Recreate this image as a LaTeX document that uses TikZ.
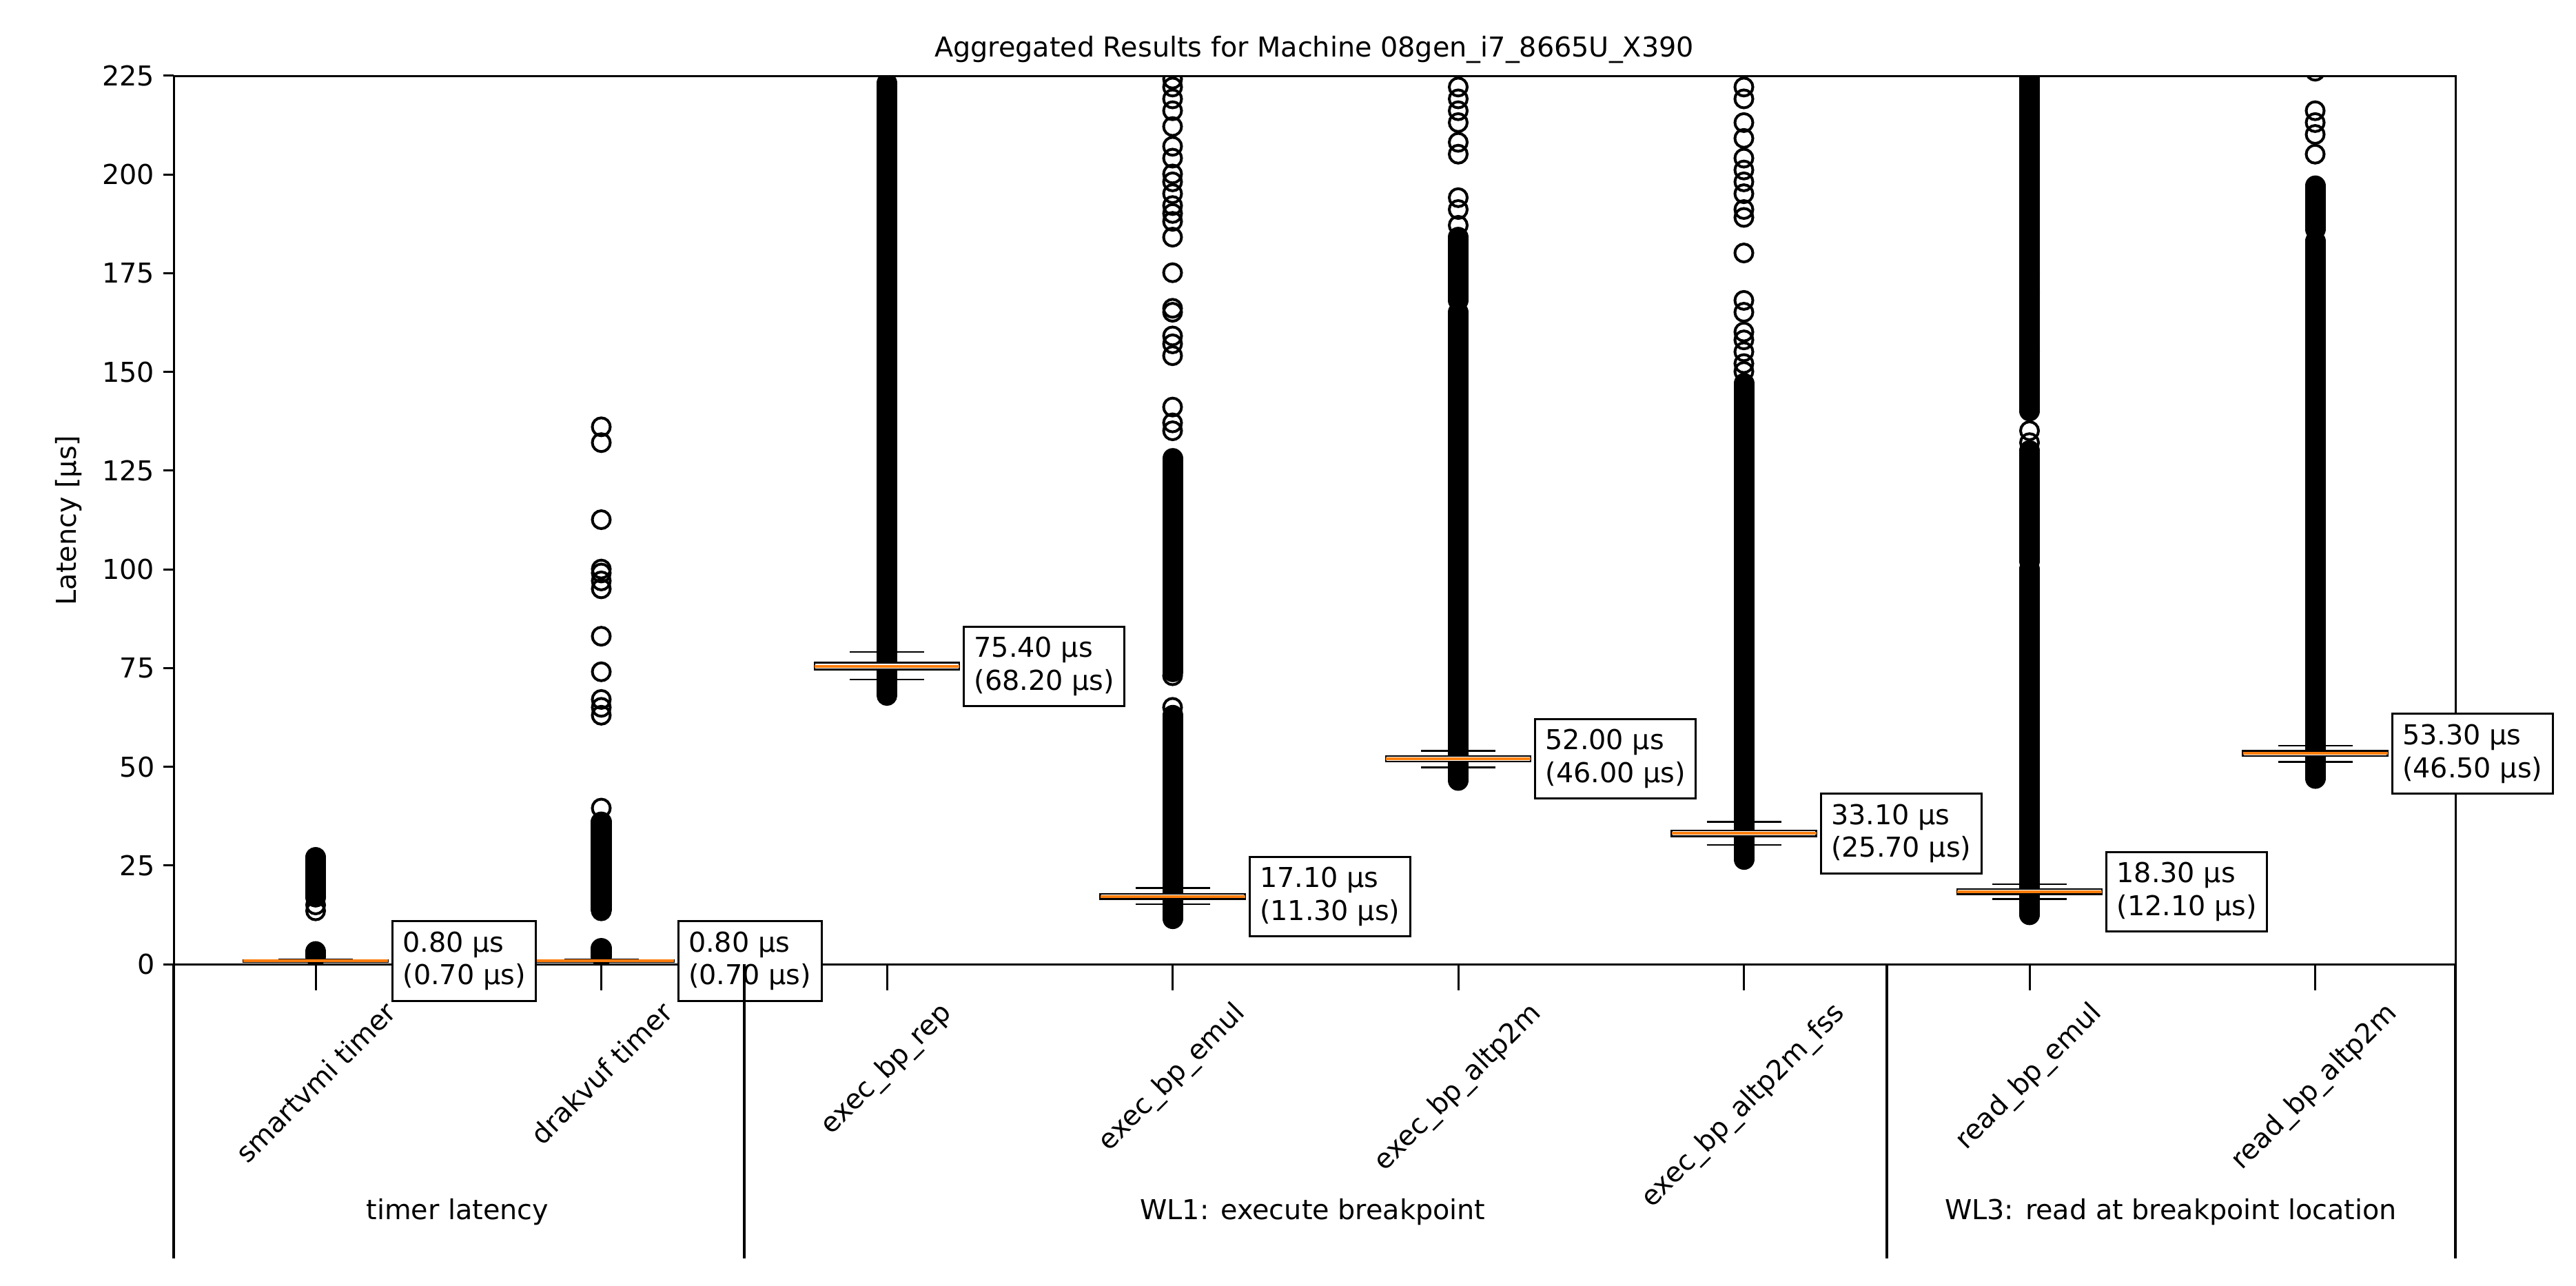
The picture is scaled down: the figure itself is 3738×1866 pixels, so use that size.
\documentclass[tikz,border=0pt]{standalone}
\usepackage{fontspec}
\setmainfont{DejaVu Sans}
\begin{document}
\begin{tikzpicture}[x=0.01cm,y=-0.01cm,font=\fontsize{11.3}{13.6}\selectfont,
  outl/.style={line width=0.04cm},
  dense/.style={line width=0.3cm,line cap=round},
  lab/.style={draw,line width=0.03cm,fill=white,align=left,inner sep=0.15cm,anchor=west},
  spine/.style={line width=0.03cm}]
\definecolor{mplorange}{HTML}{FF7F0E}
\useasboundingbox (0,0) rectangle (3738,1866);
\node (title) at (1907,72) {Aggregated Results for Machine 08gen\_i7\_8665U\_X390};
\node[rotate=90] (ylab) at (100,755) {Latency [µs]};
% y ticks
\foreach \v in {0,25,...,225}{
  \pgfmathsetmacro\yy{1399-5.729*\v}
  \draw[spine] (252,\yy) -- (237,\yy);
  \node[anchor=east,inner sep=0pt] at (225,\yy) {\v};
}
% data
\begin{scope}[shift={(0,1399)}]
\begin{scope}[y=0.05729cm]
\clip (252,0) rectangle (3563,225);
\newcommand\bxp[6]{%
  \pgfmathsetmacro\xc{458+414.5*#1}%
  \draw[line width=0.025cm] (\xc,#2) -- (\xc,#5) (\xc,#4) -- (\xc,#6);
  \draw[line width=0.025cm] (\xc-54,#5) -- (\xc+54,#5) (\xc-54,#6) -- (\xc+54,#6);
  \draw[line width=0.025cm,fill=white] (\xc-105,#2) rectangle (\xc+105,#4);
  \draw[mplorange,line width=0.04cm] (\xc-105,#3) -- (\xc+105,#3);
}
\newcommand\dno[3]{\pgfmathsetmacro\xc{458+414.5*#1}\draw[dense] (\xc,#2) -- (\xc,#3);}
\newcommand\spo[2]{\pgfmathsetmacro\xc{458+414.5*#1}\foreach \v in {#2}{\draw[outl] (\xc,\v) circle[radius=0.13cm];}}
% outliers
\dno{0}{2}{3.2}\dno{0}{17}{27}\spo{0}{13.5,15,17,27}
\dno{1}{2}{4}\dno{1}{14}{36}\spo{1}{13.5,39.5,63,65,67,74,83,95,97,99,100,112.5,132,136}
\dno{2}{68.5}{223}\spo{2}{68}
\dno{3}{11.5}{63}\dno{3}{74}{128}\spo{3}{65,73,135,137,141,154,157,159,165,166,175,184,188,190,192,195,198,200,204,207,212,216,219,222,224}
\dno{4}{46.5}{165}\dno{4}{168}{184}\spo{4}{187,191,194,205,208,213,216,219,222}
\dno{5}{26.5}{147}\spo{5}{150,152,155,158,160,165,168,180,189,191,195,198,201,204,209,213,219,222}
\dno{6}{12.5}{100}\dno{6}{102}{130}\dno{6}{140}{225}\spo{6}{132,135,155,170,175}
\dno{7}{47}{183}\dno{7}{186}{197}\spo{7}{205,210,213,216,226}
% boxes
\bxp{0}{0.6}{0.8}{1.0}{0.5}{1.2}
\bxp{1}{0.6}{0.8}{1.0}{0.5}{1.2}
\bxp{2}{74.6}{75.4}{76.3}{72}{79}
\bxp{3}{16.5}{17.1}{17.8}{15.2}{19.3}
\bxp{4}{51.3}{52.0}{52.7}{49.8}{54}
\bxp{5}{32.4}{33.1}{33.8}{30.2}{36}
\bxp{6}{17.7}{18.3}{19.0}{16.5}{20.2}
\bxp{7}{52.7}{53.3}{54.0}{51.2}{55.3}
\end{scope}
\end{scope}
% axes frame
\draw[spine] (252,110) rectangle (3563,1399);
% x ticks and labels
\foreach \i/\t in {0/smartvmi timer,1/drakvuf timer,2/exec\_bp\_rep,3/exec\_bp\_emul,4/exec\_bp\_altp2m,5/exec\_bp\_altp2m\_fss,6/read\_bp\_emul,7/read\_bp\_altp2m}{
  \pgfmathsetmacro\xc{458+414.5*\i}
  \draw[spine] (\xc,1399) -- (\xc,1437);
  \node[anchor=north,inner sep=0pt] (tl\i) at (\xc,1450) {\rotatebox{45}{\t}};
}
\foreach \i/\m/\a/\b in {0/0.8/0.80/0.70,1/0.8/0.80/0.70,2/75.4/75.40/68.20,3/17.1/17.10/11.30,4/52.0/52.00/46.00,5/33.1/33.10/25.70,6/18.3/18.30/12.10,7/53.3/53.30/46.50}{
  \pgfmathsetmacro\xc{458+414.5*\i+110}
  \pgfmathsetmacro\yy{1399-5.729*\m}
  \node[lab] (lb\i) at (\xc,\yy) {\a\ µs\\(\b\ µs)};
}
% group separators
\foreach \x in {252,1080,2738,3563}{\draw[line width=0.04cm] (\x,1399) -- (\x,1826);}
\node (g1) at (664,1759) {timer latency};
\node (g2) at (1905,1759) {WL1: execute breakpoint};
\node (g3) at (3150,1759) {WL3: read at breakpoint location};
\end{tikzpicture}
\end{document}
